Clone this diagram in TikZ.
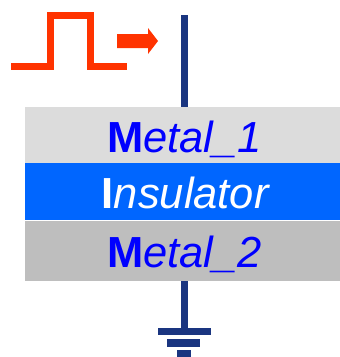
\documentclass[tikz,border=0pt]{standalone}
\usepackage{fontspec}
\setmainfont{Liberation Sans}
\usetikzlibrary{positioning}
\definecolor{wireblue}{HTML}{1A3580}
\definecolor{pulsered}{HTML}{FF3300}
\definecolor{metallight}{HTML}{DCDCDC}
\definecolor{metaldark}{HTML}{BEBEBE}
\definecolor{insulblue}{HTML}{0066FF}
\begin{document}
\begin{tikzpicture}[x = 1pt, y = 1pt,
    layer/.style = {minimum width = 315pt, inner sep = 0pt, text height = 34pt, text depth = 0pt, font = \fontsize{43.5}{43.5}\selectfont, text = blue},
    plate/.style = {fill = wireblue, inner sep = 0pt, minimum height = 7.5pt},
    wire/.style = {draw = wireblue, line width = 7pt},
    pulse/.style = {draw = pulsered, line width = 7pt}]
    \useasboundingbox (0, 0) rectangle (340, -357);

    \node[layer, fill = metallight, minimum height = 56pt](metal1) at (182.5, -135) {\hspace*{4pt}\textbf{M}\textit{etal\_1}};
    \node[layer, fill = insulblue, minimum height = 57pt, text = white](insulator) [below = 0pt of metal1] {\hspace*{7pt}\textbf{I}\textit{nsulator}};
    \node[layer, fill = metaldark, minimum height = 60pt](metal2) [below = 0pt of insulator] {\hspace*{4pt}\textbf{M}\textit{etal\_2}};

    \coordinate (top) at (184, -15);
    \node[plate, minimum width = 53pt](gnd1) at (184.5, -331.5) {};
    \node[plate, minimum width = 33pt](gnd2) at (183.5, -343) {};
    \node[plate, minimum width = 14pt](gnd3) at (184, -353.5) {};

    \draw[wire](top) -- (top |- metal1.north);
    \draw[wire](top |- metal2.south) -- (top |- gnd1.north);

    \draw[pulse](11, -66.7) -- (50.5, -66.7) -- (50.5, -15) -- (90, -15) -- (90, -66.7) -- (127, -66.7);
    \fill[pulsered](117, -34) -- (148, -34) -- (148, -28) -- (158, -41) -- (148, -54) -- (148, -48) -- (117, -48) -- cycle;
\end{tikzpicture}
\end{document}
